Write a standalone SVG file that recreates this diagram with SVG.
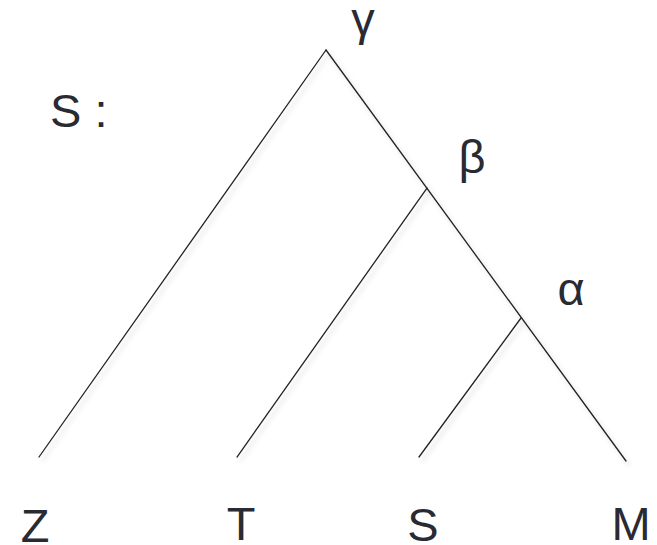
<svg xmlns="http://www.w3.org/2000/svg" width="657" height="545" viewBox="0 0 657 545">
<style>
.lbl{font-family:"Liberation Sans",Arial,sans-serif;font-size:47px;fill:#2a2a33;text-anchor:middle}
.edge{stroke:#222;stroke-width:1.3;fill:none;stroke-linecap:round}
</style>
<defs>
<filter id="sh" x="-20%" y="-20%" width="140%" height="140%">
<feDropShadow dx="3" dy="4" stdDeviation="2.5" flood-color="#000" flood-opacity="0.18"/>
</filter>
</defs>
<rect width="657" height="545" fill="#fff"/>
<g id="connectors" filter="url(#sh)">
<path class="edge" d="M326,50 L39,457"/>
<path class="edge" d="M326,50 L626,461"/>
<path class="edge" d="M427,188 L237,457"/>
<path class="edge" d="M521,318 L419,457"/>
</g>
<g id="title"><text class="lbl" x="50" y="127" style="text-anchor:start">S :</text></g>
<g id="gamma"><text class="lbl" x="363" y="35">γ</text></g>
<g id="beta"><text class="lbl" x="472" y="173">β</text></g>
<g id="alpha"><text class="lbl" x="571" y="305">α</text></g>
<g id="Z"><text class="lbl" x="35" y="542">Z</text></g>
<g id="T"><text class="lbl" x="241" y="540">T</text></g>
<g id="S"><text class="lbl" x="423" y="541">S</text></g>
<g id="M"><text class="lbl" x="631" y="540">M</text></g>
</svg>
